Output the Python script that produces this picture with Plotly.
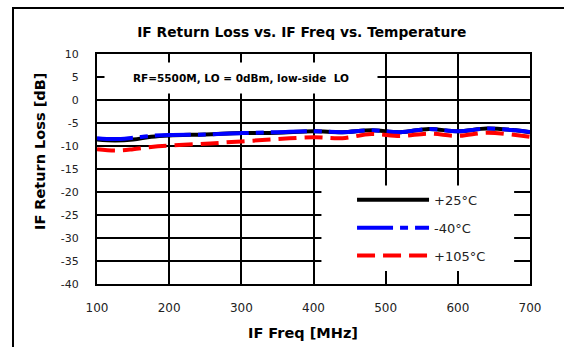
import plotly.graph_objects as go

freq = [100, 125, 150, 175, 200, 250, 300, 350, 400, 440, 480, 520, 560, 600, 640, 680, 700]
rl_25 = [-8.6, -8.8, -8.6, -8.0, -7.7, -7.5, -7.2, -7.1, -6.8, -7.0, -6.6, -7.0, -6.3, -6.8, -6.2, -6.6, -7.0]
rl_m40 = [-8.3, -8.5, -8.2, -7.8, -7.6, -7.5, -7.2, -7.0, -6.8, -7.0, -6.6, -7.0, -6.3, -6.8, -6.2, -6.6, -6.95]
rl_105 = [-10.7, -11.0, -10.7, -10.2, -9.9, -9.5, -9.0, -8.5, -8.1, -8.3, -7.4, -7.8, -7.3, -7.8, -7.1, -7.6, -8.0]

series_names = ["+25°C", "-40°C", "+105°C"]
x_ticks = [100, 200, 300, 400, 500, 600, 700]
y_ticks = [10, 5, 0, -5, -10, -15, -20, -25, -30, -35, -40]

fig = go.Figure()
fig.add_trace(go.Scatter(x=freq, y=rl_25, name=series_names[0], mode="lines",
                         line=dict(color="#000000", width=4, shape="spline"), legendgroup="a"))
fig.add_trace(go.Scatter(x=freq, y=rl_m40, name=series_names[1], mode="lines",
                         line=dict(color="#0000FF", width=4, shape="spline", dash="36px,7px,8px,7px"), legendgroup="b"))
fig.add_trace(go.Scatter(x=freq, y=rl_105, name=series_names[2], mode="lines",
                         line=dict(color="#FF0000", width=4, shape="spline", dash="18px,8px"), legendgroup="c"))

font_fam = "DejaVu Sans"
fig.update_layout(
    width=564, height=347,
    margin=dict(l=97, r=34, t=54, b=63),
    paper_bgcolor="white", plot_bgcolor="white",
    font=dict(family=font_fam, color="#000000"),
    title=dict(text="<b>IF Return Loss vs. IF Freq vs. Temperature</b>",
               font=dict(size=13.8, family=font_fam, color="#000000"),
               x=0.473, xref="paper", xanchor="center",
               y=1 - 32 / 347, yref="container", yanchor="middle"),
    showlegend=True,
    legend=dict(x=0.589, y=0.431, xanchor="left", yanchor="top", xref="paper", yref="paper",
                bgcolor="rgba(0,0,0,0)", font=dict(size=13, family=font_fam, color="#222"),
                tracegroupgap=8, itemwidth=72),
)
fig.update_xaxes(range=[100, 700], tickvals=x_ticks, ticktext=[str(v) for v in x_ticks],
                 showgrid=True, gridcolor="#000000", gridwidth=2,
                 showline=True, linecolor="#000000", linewidth=2, mirror=True,
                 ticks="", tickfont=dict(size=12, color="#222"), ticklabelstandoff=12,
                 zeroline=False, fixedrange=True)
fig.update_yaxes(range=[-40, 10], tickvals=y_ticks, ticktext=[str(v) for v in y_ticks],
                 showgrid=True, gridcolor="#000000", gridwidth=2,
                 showline=True, linecolor="#000000", linewidth=2, mirror=True,
                 ticks="", tickfont=dict(size=11, color="#222"), ticklabelstandoff=14,
                 zeroline=False, fixedrange=True)

# white box behind the legend covering the gridlines
fig.add_shape(type="rect", xref="x", yref="y", x0=411, x1=678, y0=-37.2, y1=-18.6,
              fillcolor="white", line=dict(width=0), layer="between")
# outer chart frame
fig.add_shape(type="rect", xref="paper", yref="paper", x0=-0.194, x1=1.6, y0=-0.6, y1=(284 - 8) / 230,
              fillcolor="rgba(0,0,0,0)", line=dict(color="#000000", width=2), layer="above")

fig.add_annotation(x=300, y=4.76, xref="x", yref="y",
                   text="<b>RF=5500M, LO = 0dBm, low-side  LO</b>",
                   showarrow=False, font=dict(size=10.5, family=font_fam, color="#000000"),
                   bgcolor="white", width=272, height=30, borderpad=0)
fig.add_annotation(x=(303 - 97) / 433, y=(284 - 333) / 230, xref="paper", yref="paper",
                   xanchor="center", yanchor="middle",
                   text="<b>IF Freq [MHz]</b>", showarrow=False,
                   font=dict(size=14.5, family=font_fam, color="#000000"))
fig.add_annotation(x=(40 - 97) / 433, y=(284 - 152) / 230, xref="paper", yref="paper",
                   xanchor="center", yanchor="middle",
                   text="<b>IF Return Loss [dB]</b>", showarrow=False, textangle=-90,
                   font=dict(size=14.5, family=font_fam, color="#000000"))

fig.write_html("out.html", config={"displayModeBar": False},
               post_script="document.body.style.margin='0';document.body.style.overflow='hidden';")
